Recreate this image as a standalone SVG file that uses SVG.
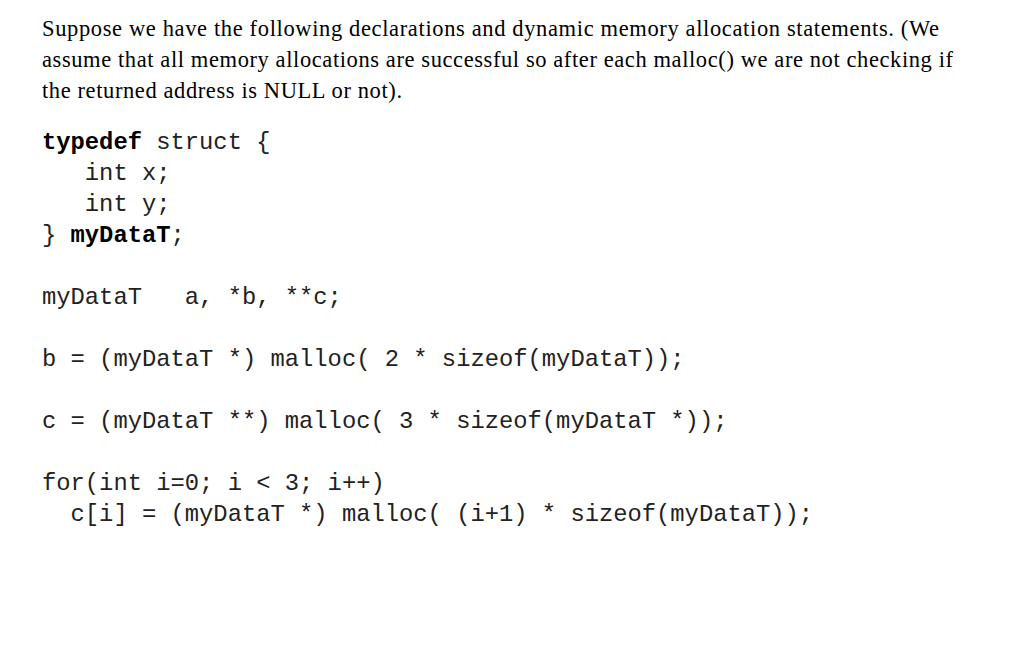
<svg xmlns="http://www.w3.org/2000/svg" width="1024" height="659" viewBox="0 0 1024 659">
<style>
.p{font-family:"Liberation Serif",serif;font-size:22.5px;fill:#000}
.c{font-family:"Liberation Mono",monospace;font-size:23.8px;fill:#222;white-space:pre}
.b{font-weight:bold;fill:#000}
</style>
<rect width="1024" height="659" fill="#fff"/>
<text class="p" x="42" y="36" textLength="897" lengthAdjust="spacing">Suppose we have the following declarations and dynamic memory allocation statements. (We</text>
<text class="p" x="42" y="67" textLength="911" lengthAdjust="spacing">assume that all memory allocations are successful so after each malloc() we are not checking if</text>
<text class="p" x="42" y="98" textLength="360" lengthAdjust="spacing">the returned address is NULL or not).</text>
<g xml:space="preserve">
<text class="c" x="42" y="149"><tspan class="b">typedef</tspan> struct {</text>
<text class="c" x="42" y="180">   int x;</text>
<text class="c" x="42" y="211">   int y;</text>
<text class="c" x="42" y="242">} <tspan class="b">myDataT</tspan>;</text>
<text class="c" x="42" y="304">myDataT   a, *b, **c;</text>
<text class="c" x="42" y="366">b = (myDataT *) malloc( 2 * sizeof(myDataT));</text>
<text class="c" x="42" y="428">c = (myDataT **) malloc( 3 * sizeof(myDataT *));</text>
<text class="c" x="42" y="490">for(int i=0; i &lt; 3; i++)</text>
<text class="c" x="42" y="521">  c[i] = (myDataT *) malloc( (i+1) * sizeof(myDataT));</text>
</g>
</svg>
